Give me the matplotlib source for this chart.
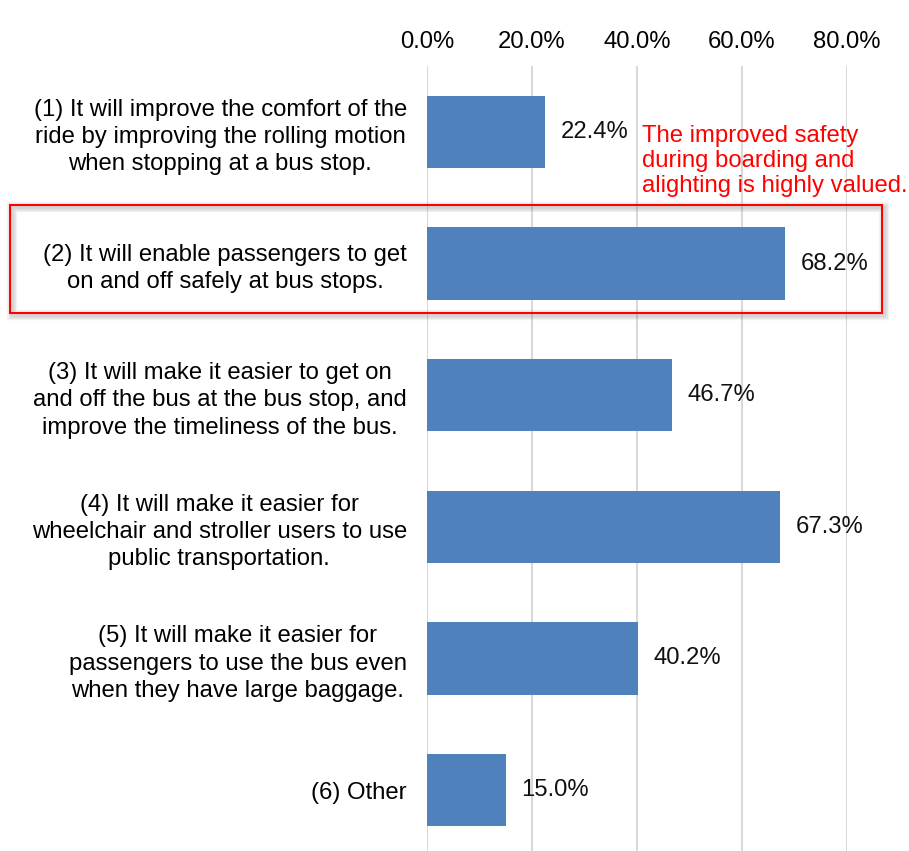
import matplotlib.pyplot as plt
from matplotlib.patches import Rectangle
from matplotlib.ticker import FuncFormatter

plt.rcParams['font.family'] = ['Liberation Sans', 'DejaVu Sans']

# survey items, top to bottom
labels = [
    "(1) It will improve the comfort of the\nride by improving the rolling motion\nwhen stopping at a bus stop.",
    "(2) It will enable passengers to get\non and off safely at bus stops.",
    "(3) It will make it easier to get on\nand off the bus at the bus stop, and\nimprove the timeliness of the bus.",
    "(4) It will make it easier for\nwheelchair and stroller users to use\npublic transportation.",
    "(5) It will make it easier for\npassengers to use the bus even\nwhen they have large baggage.",
    "(6) Other",
]
values = [22.4, 68.2, 46.7, 67.3, 40.2, 15.0]
ticks = [0, 20, 40, 60, 80]
note = "The improved safety\nduring boarding and\nalighting is highly valued."

FS = 17.2

fig = plt.figure(figsize=(9.09, 8.51), dpi=100)
ax = fig.add_axes([427 / 909, -5 / 851, 420 / 909, 790 / 851])

ypos = list(range(len(values)))
ax.barh(ypos, values, height=0.55, color='#4f81bd', zorder=2)
ax.set_ylim(len(values) - 0.5, -0.5)
ax.set_xlim(0, 80)

ax.xaxis.tick_top()
ax.set_xticks(ticks)
ax.xaxis.set_major_formatter(FuncFormatter(lambda v, p: f"{v:.1f}%"))
ax.tick_params(axis='x', length=0, pad=9, labelsize=FS)
ax.grid(axis='x', color='#d9d9d9', lw=1.5, zorder=0)
for s in ax.spines.values():
    s.set_visible(False)

ax.set_yticks(ypos)
ax.set_yticklabels(labels, fontsize=FS, ha='right', multialignment='center',
                   linespacing=1.32)
ax.tick_params(axis='y', length=0, pad=14.5)

for y, v in zip(ypos, values):
    ax.text(v + 3.0, y, f"{v:.1f}%", va='center', ha='left', fontsize=FS,
            color='#111111', zorder=3)

fig.text(642 / 909, 1 - 161 / 851, note, color='#ff0000', fontsize=FS,
         ha='left', va='center', linespacing=1.2)

# highlight box around item (2) with a soft shadow
x0, y0 = 10 / 909, 1 - 313 / 851
w, h = 872 / 909, 108 / 851
for off, a in [(3, 0.10), (2, 0.12), (1, 0.14)]:
    fig.patches.append(Rectangle((x0 + 1.5 / 909, y0 - 2 / 851), w, h,
                                 transform=fig.transFigure, fill=False,
                                 ec='#808080', lw=off * 2.5, alpha=a, zorder=4))
fig.patches.append(Rectangle((x0, y0), w, h, transform=fig.transFigure,
                             fill=False, ec='#ff0000', lw=1.5, zorder=5))

fig.savefig('out.png', dpi=100)
